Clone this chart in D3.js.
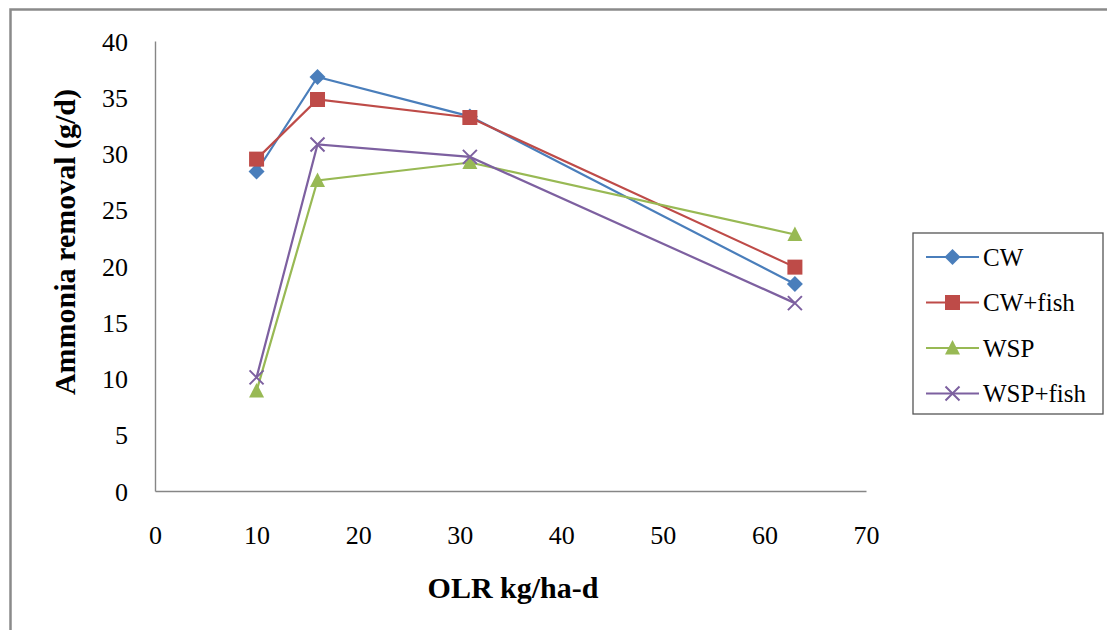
<!DOCTYPE html>
<html>
<head>
<meta charset="utf-8">
<script src="https://cdn.jsdelivr.net/npm/d3@7"></script>
<style>
  html, body { margin: 0; padding: 0; background: #fff; }
  svg { display: block; }
  text { font-family: "Liberation Serif", "Times New Roman", Times, serif; fill: #000; }
</style>
</head>
<body>
<svg id="chart" width="1107" height="630"></svg>
<script>
// OLR (kg/ha-d) loadings and ammonia removal per system (g/d)
const olr = [10, 16, 31, 63];
const seriesNames = ["CW", "CW+fish", "WSP", "WSP+fish"];
const cwValues = [28.4, 36.8, 33.3, 18.4];
const cwFishValues = [29.5, 34.8, 33.2, 19.9];
const wspValues = [8.9, 27.6, 29.2, 22.8];
const wspFishValues = [10.1, 30.8, 29.7, 16.7];
const xTicks = [0, 10, 20, 30, 40, 50, 60, 70];
const yTicks = [0, 5, 10, 15, 20, 25, 30, 35, 40];

const colors = ["#4A7EBB", "#BE4B48", "#98B954", "#7D60A0"];
const markers = ["diamond", "square", "triangle", "cross"];
const seriesValues = [cwValues, cwFishValues, wspValues, wspFishValues];

const FONT = '"Liberation Serif", "Times New Roman", Times, serif';
const svg = d3.select("#chart");

// outer frame
svg.append("rect")
  .attr("x", 10.5).attr("y", 9.5)
  .attr("width", 1110).attr("height", 640)
  .attr("fill", "none").attr("stroke", "#8a8a8a").attr("stroke-width", 2.5);

const x = d3.scaleLinear().domain([0, 70]).range([155, 866]);
const y = d3.scaleLinear().domain([0, 40]).range([491, 41]);

// axes
const xAxis = d3.axisBottom(x).tickValues(xTicks).tickSize(0).tickPadding(0);
const yAxis = d3.axisLeft(y).tickValues(yTicks).tickSize(0).tickPadding(27);

const gx = svg.append("g").attr("transform", `translate(0,${y(0)})`).call(xAxis);
const gy = svg.append("g").attr("transform", `translate(${x(0)},0)`).call(yAxis);
[gx, gy].forEach(g => {
  g.attr("font-family", FONT).attr("font-size", 26);
  g.select(".domain").attr("stroke", "#868686").attr("stroke-width", 1.4);
  g.selectAll("text")
    .style("font-family", FONT)
    .style("font-size", "26px").attr("fill", "#000");
});
gx.selectAll("text").attr("y", 44).attr("dy", "0.35em");
gy.selectAll("text").attr("dy", "0.35em");

// axis titles
svg.append("text")
  .attr("x", 513).attr("y", 598)
  .attr("text-anchor", "middle")
  .style("font-size", "30px").style("font-weight", "bold")
  .text("OLR kg/ha-d");

svg.append("text")
  .attr("transform", "translate(75,242) rotate(-90)")
  .attr("text-anchor", "middle")
  .style("font-size", "30px").style("font-weight", "bold")
  .text("Ammonia removal (g/d)");

// marker drawing
function drawMarker(g, type, color, cx, cy) {
  if (type === "diamond") {
    g.append("path")
      .attr("d", `M${cx},${cy - 8}L${cx + 8},${cy}L${cx},${cy + 8}L${cx - 8},${cy}Z`)
      .attr("fill", color);
  } else if (type === "square") {
    g.append("rect")
      .attr("x", cx - 7.5).attr("y", cy - 7.5)
      .attr("width", 15).attr("height", 15)
      .attr("fill", color);
  } else if (type === "triangle") {
    g.append("path")
      .attr("d", `M${cx},${cy - 8}L${cx + 7.5},${cy + 6.5}L${cx - 7.5},${cy + 6.5}Z`)
      .attr("fill", color);
  } else {
    g.append("path")
      .attr("d", `M${cx - 7},${cy - 7}L${cx + 7},${cy + 7}M${cx - 7},${cy + 7}L${cx + 7},${cy - 7}`)
      .attr("stroke", color).attr("stroke-width", 2).attr("fill", "none");
  }
}

const line = d3.line().x(d => x(d[0])).y(d => y(d[1]));

seriesValues.forEach((vals, i) => {
  const pts = olr.map((o, j) => [o, vals[j]]);
  const g = svg.append("g");
  g.append("path")
    .datum(pts)
    .attr("d", line)
    .attr("fill", "none")
    .attr("stroke", colors[i])
    .attr("stroke-width", 2.2);
  pts.forEach(p => drawMarker(g, markers[i], colors[i], x(p[0]), y(p[1])));
});

// legend
const legend = svg.append("g");
legend.append("rect")
  .attr("x", 913).attr("y", 233)
  .attr("width", 190).attr("height", 181)
  .attr("fill", "#fff").attr("stroke", "#555").attr("stroke-width", 1.3);

seriesNames.forEach((name, i) => {
  const ly = 257 + i * 45.5;
  legend.append("line")
    .attr("x1", 926).attr("x2", 979)
    .attr("y1", ly).attr("y2", ly)
    .attr("stroke", colors[i]).attr("stroke-width", 2.2);
  drawMarker(legend, markers[i], colors[i], 952.5, ly);
  legend.append("text")
    .attr("x", 983).attr("y", ly)
    .attr("dy", "0.35em")
    .style("font-size", "25px")
    .text(name);
});
</script>
</body>
</html>
